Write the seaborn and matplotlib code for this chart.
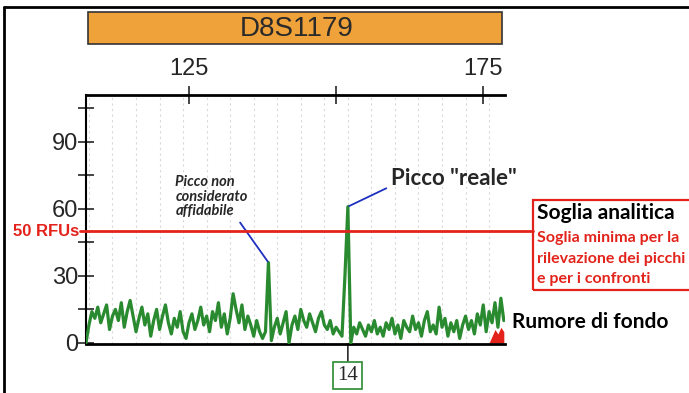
import numpy as np
import matplotlib
matplotlib.use("Agg")
import matplotlib.pyplot as plt
import seaborn as sns
from matplotlib.patches import Rectangle
from matplotlib.lines import Line2D
from matplotlib.ticker import MultipleLocator, FixedLocator
import matplotlib.transforms as mtrans

locus = "D8S1179"
soglia_rfu = 50
allele_label = "14"
allele_bp = 152.0
top_ticks = [125, 150, 175]
top_tick_labels = ["125", "", "175"]
y_ticks = [0, 30, 60, 90]

# campionamento in bp del tracciato
bp = np.arange(107.5, 178.51, 0.5)
rfu = [0, 8, 14, 11, 16, 9, 13, 17, 6, 12,
       15, 10, 18, 7, 14, 19, 12, 5, 11, 16,
       8, 13, 3, 10, 15, 6, 12, 17, 9, 4,
       11, 7, 14, 5, 2, 9, 13, 6, 10, 16,
       8, 12, 5, 14, 10, 18, 7, 13, 4, 11,
       22, 15, 9, 17, 6, 12, 8, 3, 10, 5,
       2, 5, 36, 1, 7, 11, 4, 9, 14, 0,
       8, 12, 6, 15, 10, 7, 13, 9, 5, 11,
       14, 8, 6, 10, 4, 7, 5, 3, 30, 61,
       0, 7, 4, 9, 6, 3, 8, 5, 10, 4,
       7, 3, 9, 6, 11, 4, 8, 2, 10, 7,
       5, 12, 6, 9, 3, 10, 14, 5, 8, 4,
       16, 7, 11, 3, 9, 5, 10, 2, 8, 12,
       6, 10, 4, 13, 8, 17, 5, 14, 9, 18,
       7, 20, 10]

# picco rosso (altro canale) a destra
red_bp = [176.0, 176.5, 177.0, 177.5, 178.0, 178.5]
red_rfu = [0, 3, 6, 4, 7, 5]

# ---- stile ----
sns.set_style("white")
plt.rcParams['font.family'] = ['Liberation Sans', 'DejaVu Sans']
TXT_FONT = ['Lato', 'Open Sans', 'DejaVu Sans']

GREEN = '#2a8a30'
RED = '#e3231b'
BLUE = '#1f2fbf'
ORANGE = '#efa23a'

fig = plt.figure(figsize=(6.89, 3.93), dpi=100)
ax = fig.add_axes([86 / 689, 49 / 393, 419 / 689, 249 / 393])

# tracciato
ax.fill_between(red_bp, 0, red_rfu, color=RED, lw=0, zorder=2)
sns.lineplot(x=bp, y=rfu, ax=ax, color=GREEN, lw=2.3, zorder=3)

ax.set_xlim(107.5, 178.7)
ax.set_ylim(-0.5, 111)

# griglia verticale tratteggiata chiara
ax.xaxis.set_minor_locator(MultipleLocator(4))
ax.grid(True, which='minor', axis='x', color='#d8d8d8', ls=(0, (2, 3)), lw=0.8)
ax.grid(False, which='major')

# assi
ax.spines['right'].set_visible(False)
ax.spines['left'].set_linewidth(1.5)
ax.spines['top'].set_linewidth(2)
ax.spines['bottom'].set_linewidth(2)
for s in ['left', 'top', 'bottom']:
    ax.spines[s].set_color('black')

ax.yaxis.set_major_locator(FixedLocator(y_ticks))
ax.yaxis.set_minor_locator(FixedLocator([15, 45, 75, 105]))
ax.tick_params(axis='y', which='major', direction='inout', length=11, width=1.2,
               labelsize=17, pad=0, left=True)
ax.tick_params(axis='y', which='minor', direction='inout', length=11, width=1.2, left=True)

ax.xaxis.tick_top()
ax.set_xticks(top_ticks)
ax.set_xticklabels(top_tick_labels)
ax.tick_params(axis='x', which='major', direction='inout', length=13, width=1.2,
               labelsize=17, pad=4, top=True, bottom=False)
ax.tick_params(axis='x', which='minor', length=0)

# soglia analitica
ax.axhline(soglia_rfu, xmin=-0.015, xmax=(533 - 86) / 419, color=RED, lw=2,
           clip_on=False, zorder=4)
trans = mtrans.blended_transform_factory(ax.transAxes, ax.transData)
ax.text(-0.017, soglia_rfu, "50 RFUs", transform=trans, ha='right', va='center',
        color=RED, fontsize=12, fontweight='bold', family=['Liberation Sans'])

# annotazioni picchi
ax.annotate('Picco "reale"', xy=(allele_bp, 61), xytext=(159.3, 73.5),
            ha='left', va='center', fontsize=16, fontweight='bold', family=TXT_FONT,
            arrowprops=dict(arrowstyle='-', color=BLUE, lw=1.3, relpos=(0, 0.15),
                            shrinkA=1, shrinkB=1))
ax.annotate("Picco non\nconsiderato\naffidabile", xy=(138.5, 36), xytext=(122.7, 65.5),
            ha='left', va='center', fontsize=10.5, fontweight='bold', style='italic',
            family=TXT_FONT, linespacing=1.05,
            arrowprops=dict(arrowstyle='-', color=BLUE, lw=1.3, relpos=(0.85, 0),
                            shrinkA=1, shrinkB=1))

# etichetta allele sotto l'asse
ax.annotate(allele_label, xy=(allele_bp, 0), xycoords=('data', 'axes fraction'),
            xytext=(0, -22.5), textcoords='offset points', ha='center', va='center',
            fontsize=15, family=['Liberation Serif', 'DejaVu Serif'],
            bbox=dict(boxstyle='square,pad=0.2', fc='white', ec=GREEN, lw=1.2),
            arrowprops=dict(arrowstyle='-', color='black', lw=1, shrinkA=0, shrinkB=0))

# ---- elementi in coordinate figura ----
fig.add_artist(Rectangle((88 / 689, 1 - 44 / 393), 414 / 689, 32 / 393,
                         transform=fig.transFigure, fc=ORANGE, ec='#333333', lw=1.2))
fig.text(297 / 689, 1 - 29 / 393, locus, ha='center', va='center', fontsize=20,
         color='#2a2a2a', family=['Liberation Sans'])

fig.add_artist(Line2D([4 / 689, 4 / 689], [0, 1 - 7 / 393], transform=fig.transFigure,
                      color='black', lw=2))
fig.add_artist(Line2D([4 / 689, 1], [1 - 7 / 393, 1 - 7 / 393], transform=fig.transFigure,
                      color='black', lw=2))

fig.add_artist(Rectangle((533 / 689, 1 - 290 / 393), 160 / 689, 90 / 393,
                         transform=fig.transFigure, fc='none', ec=RED, lw=1.6))
fig.text(537 / 689, 1 - 213 / 393, "Soglia analitica", ha='left', va='center',
         fontsize=15, fontweight='bold', color='black', family=TXT_FONT)
for yy, line in zip([238, 259, 279],
                    ["Soglia minima per la", "rilevazione dei picchi", "e per i confronti"]):
    fig.text(537 / 689, 1 - yy / 393, line, ha='left', va='center', fontsize=11.5,
             fontweight='bold', color=RED, family=TXT_FONT)

fig.text(512 / 689, 1 - 322 / 393, "Rumore di fondo", ha='left', va='center',
         fontsize=15, fontweight='bold', color='black', family=TXT_FONT)

fig.savefig("out.png", dpi=100)
